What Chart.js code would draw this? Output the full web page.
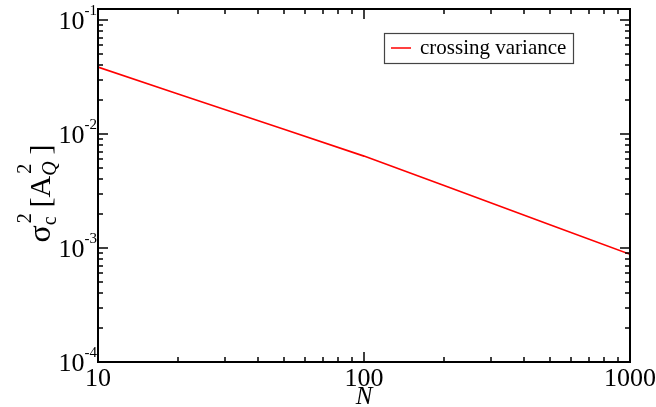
<!DOCTYPE html>
<html>
<head>
<meta charset="utf-8">
<script src="https://cdn.jsdelivr.net/npm/chart.js@4/dist/chart.umd.min.js"></script>
<style>
  html, body { margin: 0; padding: 0; background: #fff; }
  #wrap { width: 656px; height: 407px; }
</style>
</head>
<body>
<div id="wrap"><canvas id="chart"></canvas></div>
<script>
// data
const nValues = [10, 20, 50, 100, 200, 500, 1000];
const crossingVariance = [0.0387, 0.0225, 0.0110, 0.0064, 0.00353, 0.0016, 0.00088];
const xTicks = [10, 100, 1000];
const yTickExps = [-4, -3, -2, -1];

const SERIF = '"Liberation Serif", "DejaVu Serif", serif';

// frame, ticks, labels and legend drawn on top of the chart
const xmgrPlugin = {
  id: 'xmgr',
  afterDraw(chart) {
    const ctx = chart.ctx;
    const a = chart.chartArea;
    const xs = chart.scales.x, ys = chart.scales.y;
    ctx.save();
    ctx.strokeStyle = '#000';
    ctx.lineWidth = 2;
    ctx.strokeRect(a.left, a.top, a.right - a.left, a.bottom - a.top);

    // x ticks (bottom and top)
    ctx.lineWidth = 1.5;
    for (let d = 10; d < 1000; d *= 10) {
      for (let m = 1; m <= 9; m++) {
        const px = Math.round(xs.getPixelForValue(d * m));
        const len = m === 1 ? 10 : 5;
        ctx.beginPath();
        ctx.moveTo(px, a.bottom); ctx.lineTo(px, a.bottom - len);
        ctx.moveTo(px, a.top); ctx.lineTo(px, a.top + len);
        ctx.stroke();
      }
    }
    // y ticks (left and right)
    for (let e = -4; e <= -1; e++) {
      for (let m = 1; m <= 9; m++) {
        const v = m * Math.pow(10, e);
        if (v > ys.max) continue;
        const py = Math.round(ys.getPixelForValue(v));
        const len = m === 1 ? 10 : 5;
        ctx.beginPath();
        ctx.moveTo(a.left, py); ctx.lineTo(a.left + len, py);
        ctx.moveTo(a.right, py); ctx.lineTo(a.right - len, py);
        ctx.stroke();
      }
    }

    ctx.fillStyle = '#000';
    // x tick labels
    ctx.font = '26px ' + SERIF;
    ctx.textAlign = 'center';
    ctx.textBaseline = 'alphabetic';
    xTicks.forEach(v => {
      ctx.fillText(String(v), xs.getPixelForValue(v), a.bottom + 24);
    });
    // x title
    ctx.font = 'italic 25px ' + SERIF;
    ctx.fillText('N', (a.left + a.right) / 2, a.bottom + 42);

    // y tick labels 10^e
    yTickExps.forEach(e => {
      const py = ys.getPixelForValue(Math.pow(10, e));
      ctx.font = '15px ' + SERIF;
      const sup = String(e);
      const supW = ctx.measureText(sup).width;
      ctx.textAlign = 'right';
      ctx.fillText(sup, a.left - 1, py - 5);
      ctx.font = '26px ' + SERIF;
      ctx.fillText('10', a.left - 1 - supW, py + 9);
    });

    // y title: sigma_c^2 [A_Q^2]
    ctx.translate(50, (a.top + a.bottom) / 2);
    ctx.rotate(-Math.PI / 2);
    ctx.textAlign = 'left';
    const parts = [
      { t: 'σ', f: '32px ' + SERIF, dy: 0 },
      { t: 'c', f: '20px ' + SERIF, dy: 6, sub: true, gap: 9 },
      { t: '[A', f: '30px ' + SERIF, dy: 0 },
      { t: 'Q', f: 'italic 20px ' + SERIF, dy: 6, sub: true, gap: 7 },
      { t: ']', f: '30px ' + SERIF, dy: 0 }
    ];
    let w = 0;
    parts.forEach(p => { ctx.font = p.f; p.w = ctx.measureText(p.t).width; w += p.w + (p.gap || 0); });
    let x = -w / 2 - 8;
    parts.forEach(p => {
      ctx.font = p.f;
      ctx.fillText(p.t, x, p.dy);
      if (p.sub) {
        ctx.font = '20px ' + SERIF;
        ctx.fillText('2', x + 2, -19);
      }
      x += p.w + (p.gap || 0);
    });
    ctx.restore();

    // legend
    ctx.save();
    const lx = 384, ly = 33, lw = 189, lh = 30;
    ctx.fillStyle = '#fff';
    ctx.fillRect(lx, ly, lw, lh);
    ctx.strokeStyle = '#444';
    ctx.lineWidth = 1.2;
    ctx.strokeRect(lx + 0.5, ly + 0.5, lw, lh);
    const ds = chart.data.datasets[0];
    ctx.strokeStyle = ds.borderColor;
    ctx.lineWidth = 1.5;
    ctx.beginPath();
    ctx.moveTo(lx + 7, ly + 15); ctx.lineTo(lx + 27, ly + 15);
    ctx.stroke();
    ctx.fillStyle = '#000';
    ctx.font = '21px ' + SERIF;
    ctx.textBaseline = 'middle';
    ctx.fillText(ds.label, lx + 36, ly + 15);
    ctx.restore();
  }
};

new Chart(document.getElementById('chart'), {
  type: 'line',
  data: {
    labels: nValues,
    datasets: [{
      label: 'crossing variance',
      data: nValues.map((n, i) => ({ x: n, y: crossingVariance[i] })),
      borderColor: '#ff0000',
      borderWidth: 1.6,
      pointRadius: 0,
      tension: 0,
      fill: false
    }]
  },
  options: {
    responsive: true,
    maintainAspectRatio: false,
    animation: false,
    layout: { padding: { left: 0, right: 26, top: 9, bottom: 0 } },
    plugins: { legend: { display: false }, tooltip: { enabled: false } },
    scales: {
      x: {
        type: 'logarithmic', min: 10, max: 1000,
        grid: { display: false, drawTicks: false },
        border: { display: false },
        ticks: { display: false },
        afterFit: s => { s.height = 45; }
      },
      y: {
        type: 'logarithmic', min: 1e-4, max: 0.125,
        grid: { display: false, drawTicks: false },
        border: { display: false },
        ticks: { display: false },
        afterFit: s => { s.width = 98; }
      }
    }
  },
  plugins: [xmgrPlugin]
});
</script>
</body>
</html>
